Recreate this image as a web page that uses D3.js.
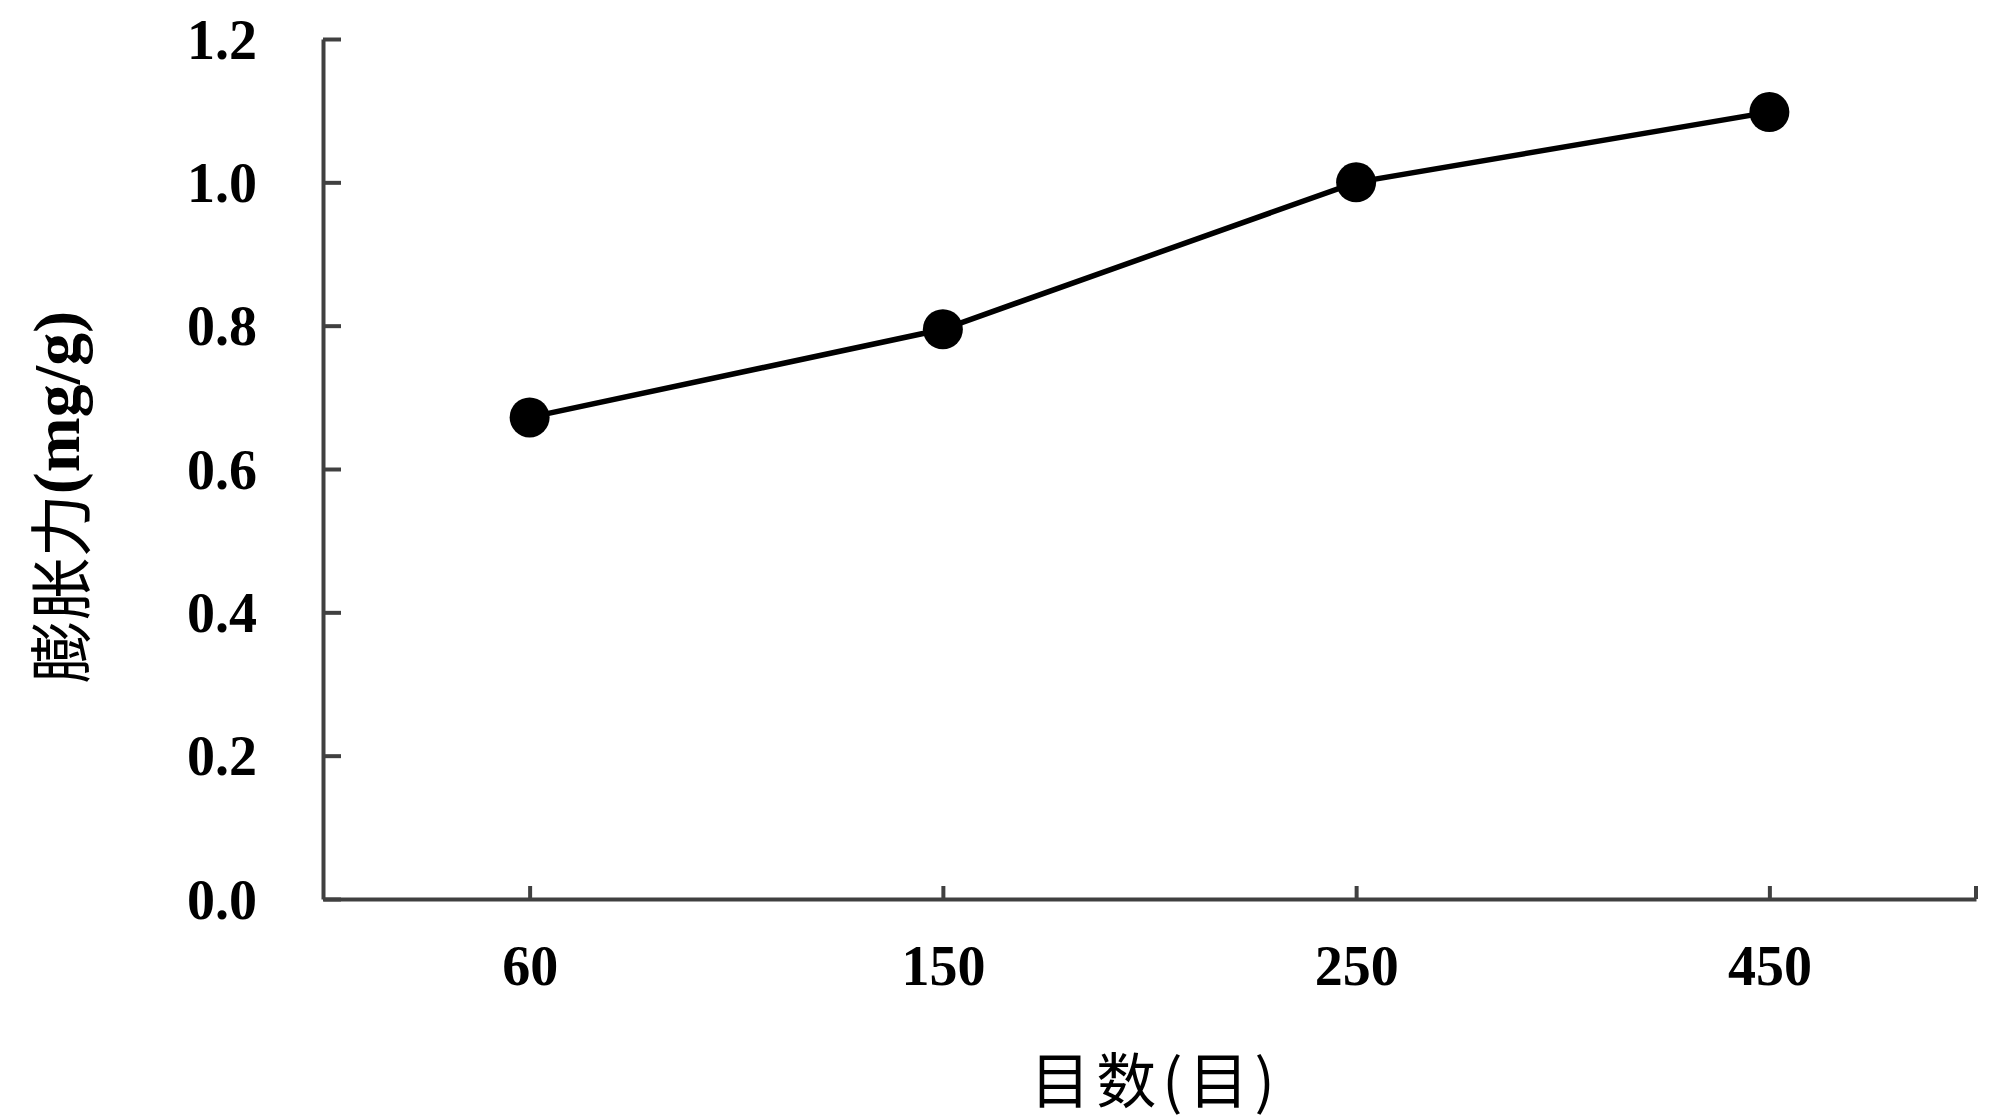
<!DOCTYPE html>
<html>
<head>
<meta charset="utf-8">
<script src="https://cdn.jsdelivr.net/npm/d3@7"></script>
<style>
  body { margin: 0; background: #fff; }
  .tick text { font-family: "Liberation Serif", "Times New Roman", serif; font-weight: bold; }
</style>
</head>
<body>
<div id="chart"></div>
<script>
// mesh size vs swelling power
const meshes = ["60", "150", "250", "450"];
const swelling = [0.672, 0.795, 1.0, 1.098];
const yTicks = [0, 0.2, 0.4, 0.6, 0.8, 1.0, 1.2];

const width = 2000, height = 1118;
const margin = {top: 39, right: 24, bottom: 219, left: 323};
const innerW = width - margin.left - margin.right;
const innerH = height - margin.top - margin.bottom;

const svg = d3.select("#chart").append("svg")
    .attr("width", width)
    .attr("height", height);

const g = svg.append("g")
    .attr("transform", "translate(" + margin.left + "," + margin.top + ")");

const x = d3.scalePoint()
    .domain(meshes)
    .range([0, innerW])
    .padding(0.5);

const y = d3.scaleLinear()
    .domain([0, 1.2])
    .range([innerH, 0]);

const axisColor = "#404040";

// y axis, ticks pointing inward
const yAxis = g.append("g")
    .call(d3.axisLeft(y).tickValues(yTicks).tickFormat(d3.format(".1f")).tickSizeInner(-18).tickSizeOuter(0).tickPadding(66));
yAxis.select(".domain").attr("stroke", axisColor).attr("stroke-width", 4);
yAxis.selectAll(".tick line").attr("stroke", axisColor).attr("stroke-width", 4);
yAxis.selectAll(".tick text").attr("font-size", 56).attr("fill", "#000").attr("dy", "0.34em");

// x axis, ticks pointing up, plus one at the right end
const xAxis = g.append("g")
    .attr("transform", "translate(0," + innerH + ")")
    .call(d3.axisBottom(x).tickSizeInner(-13).tickSizeOuter(0).tickPadding(46));
xAxis.select(".domain").attr("stroke", axisColor).attr("stroke-width", 4);
xAxis.selectAll(".tick line").attr("stroke", axisColor).attr("stroke-width", 4);
xAxis.selectAll(".tick text").attr("font-size", 56).attr("fill", "#000");
xAxis.append("line")
    .attr("x1", innerW).attr("x2", innerW)
    .attr("y1", 0).attr("y2", -13)
    .attr("stroke", axisColor).attr("stroke-width", 4);

const data = meshes.map((m, i) => ({mesh: m, value: swelling[i]}));

const line = d3.line()
    .x(d => x(d.mesh))
    .y(d => y(d.value));

g.append("path")
    .datum(data)
    .attr("fill", "none")
    .attr("stroke", "#000")
    .attr("stroke-width", 5.5)
    .attr("d", line);

g.selectAll("circle")
    .data(data)
    .enter()
    .append("circle")
    .attr("cx", d => x(d.mesh))
    .attr("cy", d => y(d.value))
    .attr("r", 20)
    .attr("fill", "#000");

// axis titles
svg.append("text")
    .attr("x", margin.left + innerW / 2 + 6)
    .attr("y", 1076)
    .attr("text-anchor", "middle")
    .attr("dominant-baseline", "central")
    .attr("font-family", "'Noto Sans CJK SC', sans-serif")
    .attr("font-size", 60)
    .attr("letter-spacing", 6)
    .text("目数(目)");

const yt = svg.append("text")
    .attr("transform", "translate(56,497) rotate(-90)")
    .attr("text-anchor", "middle")
    .attr("dominant-baseline", "central");
yt.append("tspan")
    .attr("font-family", "'Noto Sans CJK SC', sans-serif")
    .attr("font-size", 63)
    .text("膨胀力");
yt.append("tspan")
    .attr("font-family", "'Liberation Serif', serif")
    .attr("font-weight", "bold")
    .attr("font-size", 66)
    .text("(mg/g)");
</script>
</body>
</html>
